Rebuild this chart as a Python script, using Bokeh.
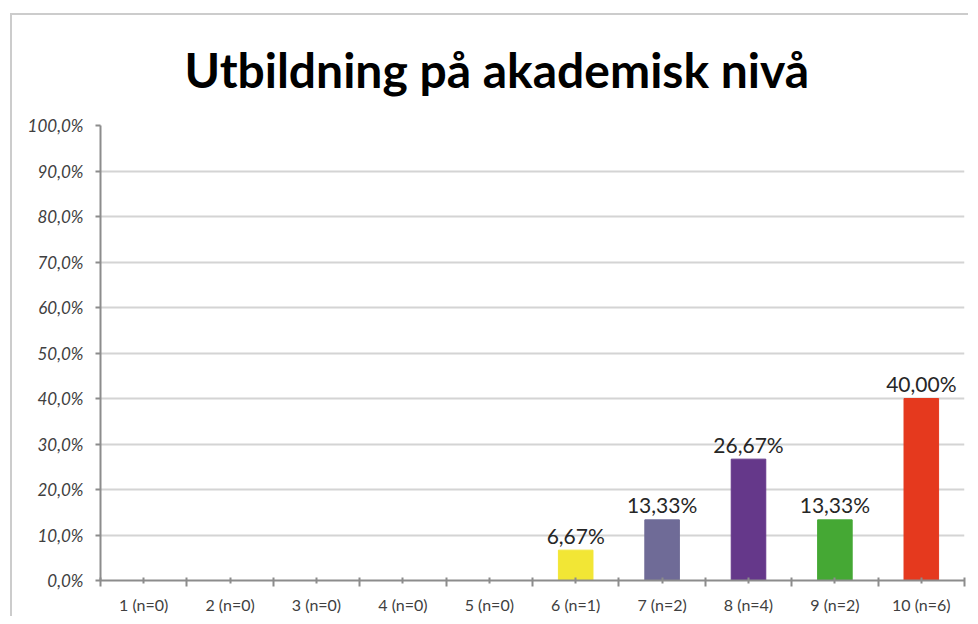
from bokeh.plotting import figure
from bokeh.models import ColumnDataSource, FixedTicker, Range1d
from bokeh.core.properties import value
from bokeh.embed import file_html
from bokeh.resources import INLINE

categories = ["1 (n=0)", "2 (n=0)", "3 (n=0)", "4 (n=0)", "5 (n=0)",
              "6 (n=1)", "7 (n=2)", "8 (n=4)", "9 (n=2)", "10 (n=6)"]
percent = [0, 0, 0, 0, 0, 6.67, 13.33, 26.67, 13.33, 40.00]
bar_colors = ["#F2E635", "#F2E635", "#F2E635", "#F2E635", "#F2E635",
              "#F2E635", "#6F6B97", "#65388A", "#45A834", "#E5391E"]
y_ticks = [0, 10, 20, 30, 40, 50, 60, 70, 80, 90, 100]

xs = list(range(1, len(categories) + 1))
labels = [("%.2f%%" % v).replace(".", ",") for v in percent]
show = [v > 0 for v in percent]

src = ColumnDataSource(dict(x=xs, top=percent, color=bar_colors, label=labels))
lab_src = ColumnDataSource(dict(
    x=[x for x, s in zip(xs, show) if s],
    y=[v for v, s in zip(percent, show) if s],
    label=[l for l, s in zip(labels, show) if s]))

p = figure(width=958, height=608, output_backend="svg", toolbar_location=None,
           x_range=Range1d(0.5, len(categories) + 0.5), y_range=Range1d(0, 100),
           min_border_left=90, min_border_right=4, min_border_top=117, min_border_bottom=36,
           title="Utbildning på akademisk nivå")
p.styles = {"margin-left": "10px", "margin-top": "8px",
            "background": "linear-gradient(#cccccc, #cccccc) 0px 5px / 100% 2px no-repeat, "
                          "linear-gradient(#cccccc, #cccccc) 0px 5px / 2px 100% no-repeat"}
p.outline_line_color = None
p.background_fill_color = "white"
p.border_fill_color = None

p.title.text_font = "Lato"
p.title.text_font_style = "bold"
p.title.text_font_size = "48px"
p.title.text_color = "black"
p.title.align = "left"
p.title.offset = 84
p.title.standoff = 55

p.vbar(x="x", top="top", width=0.4, bottom=0, fill_color="color",
       line_color="color", source=src)
p.text(x="x", y="y", text="label", source=lab_src, text_align="center",
       text_baseline="alphabetic", y_offset=-15, text_font=value("Lato"),
       text_font_size="21px", text_color="#262626")

# y axis
p.yaxis.ticker = FixedTicker(ticks=y_ticks)
p.yaxis.major_label_overrides = {t: ("%.1f%%" % t).replace(".", ",") for t in y_ticks}
p.yaxis.major_label_text_font = "Lato"
p.yaxis.major_label_text_font_style = "italic"
p.yaxis.major_label_text_font_size = "17px"
p.yaxis.major_label_text_color = "#404040"
p.yaxis.axis_line_color = "#8c8c8c"
p.yaxis.axis_line_width = 2
p.yaxis.major_tick_line_color = "#8c8c8c"
p.yaxis.major_tick_line_width = 2
p.yaxis.major_tick_out = 5
p.yaxis.major_tick_in = 0
p.yaxis.minor_tick_line_color = None
p.yaxis.major_label_standoff = 12

# x axis
p.xaxis.ticker = FixedTicker(ticks=xs, minor_ticks=[x + 0.5 for x in [0] + xs])
p.xaxis.major_label_overrides = {x: c for x, c in zip(xs, categories)}
p.xaxis.major_label_text_font = "Lato"
p.xaxis.major_label_text_font_size = "16px"
p.xaxis.major_label_text_color = "#404040"
p.xaxis.axis_line_color = "#8c8c8c"
p.xaxis.axis_line_width = 2
p.xaxis.major_tick_line_color = "#8c8c8c"
p.xaxis.major_tick_line_width = 2
p.xaxis.major_tick_in = 3
p.xaxis.major_tick_out = 3
p.xaxis.minor_tick_line_color = "#8c8c8c"
p.xaxis.minor_tick_line_width = 2
p.xaxis.minor_tick_in = 3
p.xaxis.minor_tick_out = 6
p.xaxis.major_label_standoff = 8

p.xgrid.grid_line_color = None
p.ygrid.ticker = FixedTicker(ticks=y_ticks)
p.ygrid.grid_line_color = "#d4d4d4"
p.ygrid.grid_line_width = 2

open("out.html", "w").write(file_html(p, INLINE))
